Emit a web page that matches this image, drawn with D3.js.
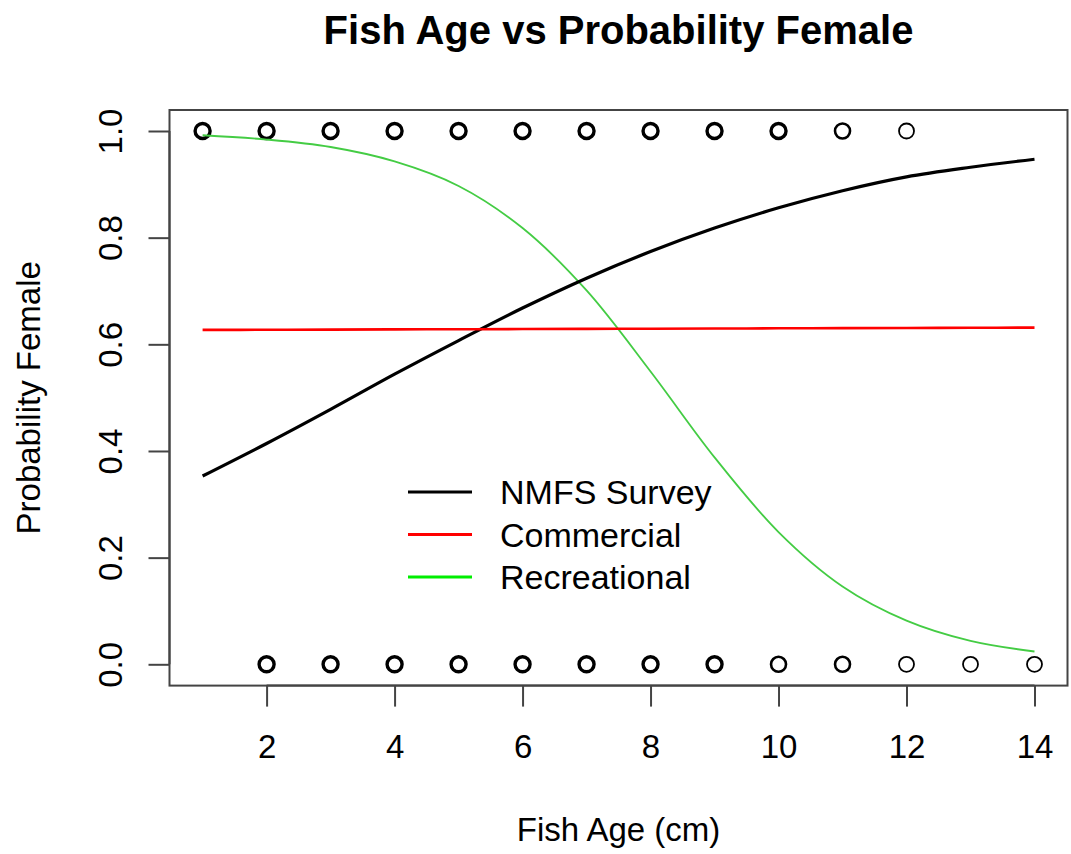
<!DOCTYPE html>
<html><head><meta charset="utf-8">
<script src="https://cdn.jsdelivr.net/npm/d3@7"></script>
<style>body{margin:0;background:#fff}svg{display:block;font-family:"Liberation Sans",Arial,Helvetica,sans-serif}</style>
</head><body>
<script>
const ages = [1,2,3,4,5,6,7,8,9,10,11,12,13,14];
const nmfs = [0.353,0.414,0.478,0.544,0.607,0.668,0.724,0.774,0.818,0.856,0.888,0.914,0.932,0.947];
const commercial = [0.627,0.6273,0.6276,0.628,0.6283,0.6286,0.629,0.6293,0.6296,0.630,0.6303,0.6306,0.631,0.6313];
const recreational = [0.992,0.984,0.970,0.943,0.897,0.818,0.701,0.549,0.388,0.248,0.146,0.082,0.044,0.024];
// observed points: age and how heavily they are overplotted
const femaleAges = [1,2,3,4,5,6,7,8,9,10,11,12];
const femaleCounts = [4,4,4,4,4,4,4,4,4,4,2,1];
const maleAges = [2,3,4,5,6,7,8,9,10,11,12,13,14];
const maleCounts = [4,4,4,4,4,4,4,4,2,2,1,1,1];
const xTicks = [2,4,6,8,10,12,14];
const yTicks = [0,0.2,0.4,0.6,0.8,1.0];
const legendNames = ["NMFS Survey","Commercial","Recreational"];
const legendColors = ["#000000","#ff0000","#00ee00"];

const W=1071,H=854;
const svg=d3.select("body").append("svg").attr("width",W).attr("height",H);
const L=169.5,R=1067.5,T=110,B=685.6;
const x=d3.scaleLinear().domain([1,14]).range([202.6,1034.5]);
const y=d3.scaleLinear().domain([0,1]).range([664.3,131]);

svg.append("text").attr("x",(L+R)/2).attr("y",44).attr("text-anchor","middle")
  .attr("font-size",40).attr("font-weight","bold").text("Fish Age vs Probability Female");

// box
svg.append("rect").attr("x",L).attr("y",T).attr("width",R-L).attr("height",B-T)
  .attr("fill","none").attr("stroke","#444").attr("stroke-width",2);

// x axis
const xa=svg.append("g").attr("transform",`translate(0,${B})`)
  .call(d3.axisBottom(x).tickValues(xTicks).tickSize(21).tickPadding(0).tickFormat(d3.format("d")));
xa.select(".domain").attr("stroke","#444").attr("stroke-width",2).attr("d",`M${x(2)},0H${x(14)}`);
xa.selectAll(".tick line").attr("stroke","#444").attr("stroke-width",2);
xa.selectAll(".tick text").attr("font-size",33).attr("fill","#000")
  .attr("font-family","Liberation Sans, Arial, sans-serif").attr("dy",0).attr("y",72.4);

// y axis
const ya=svg.append("g").attr("transform",`translate(${L},0)`)
  .call(d3.axisLeft(y).tickValues(yTicks).tickSize(21).tickPadding(0).tickFormat(d3.format(".1f")));
ya.select(".domain").attr("stroke","#444").attr("stroke-width",2).attr("d",`M0,${y(0)}V${y(1)}`);
ya.selectAll(".tick line").attr("stroke","#444").attr("stroke-width",2);
ya.selectAll(".tick text").attr("font-size",33).attr("fill","#000")
  .attr("font-family","Liberation Sans, Arial, sans-serif")
  .attr("text-anchor","middle").attr("dy",0)
  .attr("transform","translate(-47.5,0) rotate(-90)").attr("x",0).attr("y",0);

svg.append("text").attr("x",(L+R)/2).attr("y",841).attr("text-anchor","middle").attr("font-size",33).text("Fish Age (cm)");
svg.append("text").attr("transform",`translate(40,${(T+B)/2}) rotate(-90)`).attr("text-anchor","middle").attr("font-size",33).text("Probability Female");

// points
const pts=svg.append("g").attr("fill","none").attr("stroke","#000");
pts.selectAll("circle.f").data(femaleAges.map((a,i)=>({a,c:femaleCounts[i]}))).join("circle")
  .attr("cx",d=>x(d.a)).attr("cy",y(1)).attr("r",7.5).attr("stroke-width",d=>d.c>=4?3.4:d.c>=2?2.6:1.8);
pts.selectAll("circle.m").data(maleAges.map((a,i)=>({a,c:maleCounts[i]}))).join("circle")
  .attr("cx",d=>x(d.a)).attr("cy",y(0)).attr("r",7.5).attr("stroke-width",d=>d.c>=4?3.4:d.c>=2?2.6:1.8);

const line=d3.line().x((d,i)=>x(ages[i])).y(d=>y(d)).curve(d3.curveCatmullRom);
svg.append("path").attr("d",line(recreational)).attr("fill","none").attr("stroke","#44cc44").attr("stroke-width",1.8);
svg.append("path").attr("d",line(nmfs)).attr("fill","none").attr("stroke","#000").attr("stroke-width",3.2);
svg.append("path").attr("d",line(commercial)).attr("fill","none").attr("stroke","#ff0000").attr("stroke-width",2.6);

// legend
const lg=svg.append("g");
legendNames.forEach((n,i)=>{
  const yy=492+i*42.5;
  lg.append("line").attr("x1",408).attr("x2",472).attr("y1",yy).attr("y2",yy).attr("stroke",legendColors[i]).attr("stroke-width",3);
  lg.append("text").attr("x",500).attr("y",yy+12).attr("font-size",34).text(n);
});
</script>
</body></html>
